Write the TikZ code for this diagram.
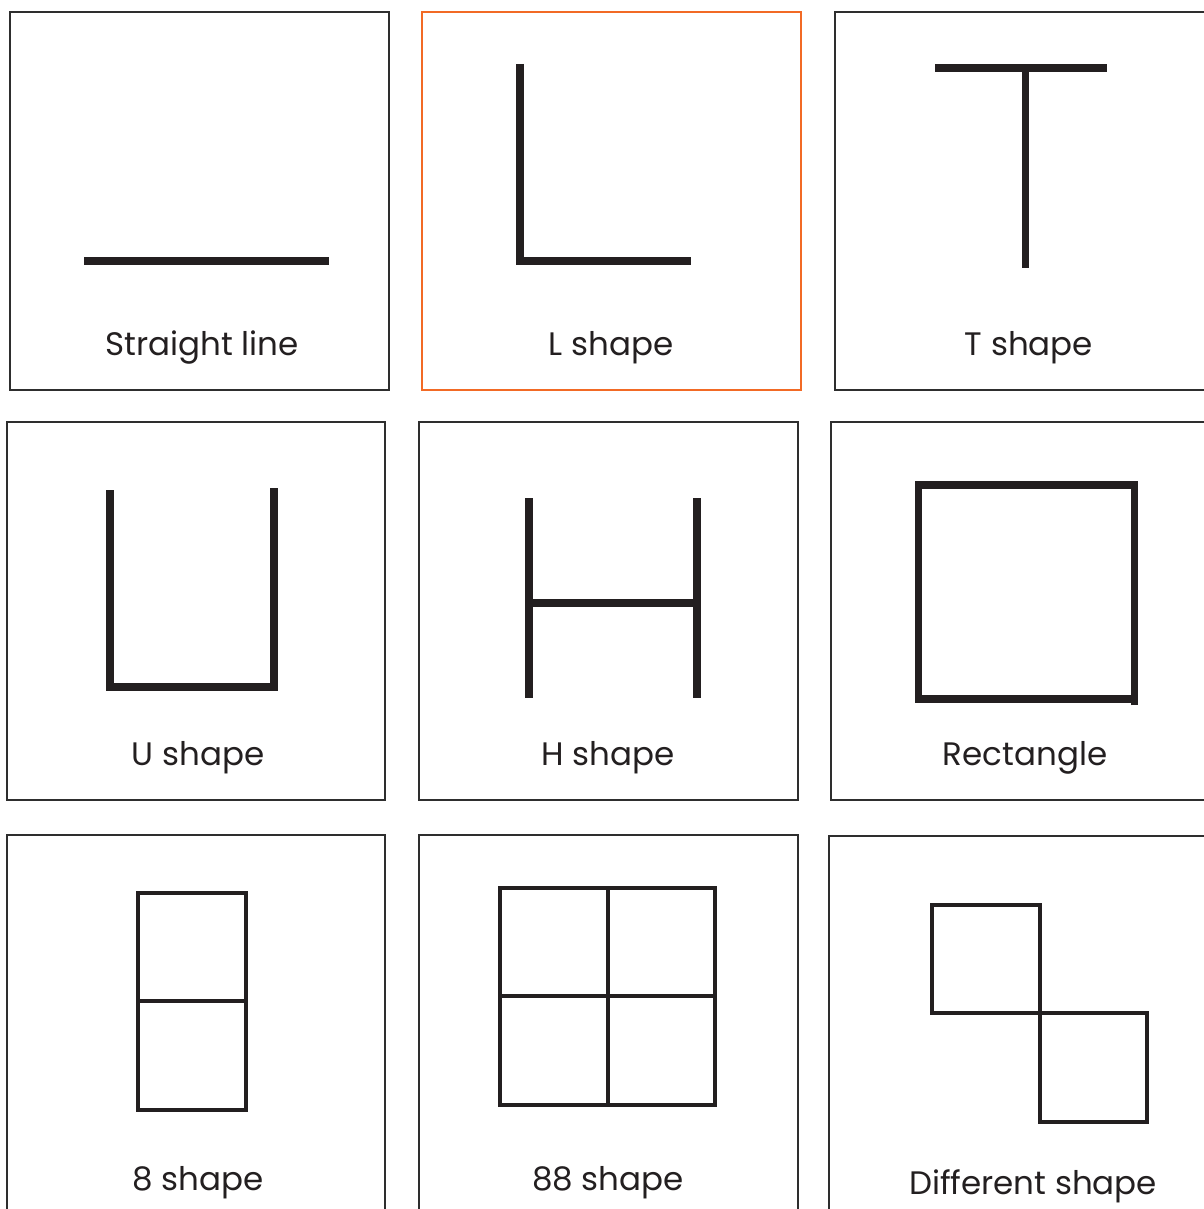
\documentclass[tikz,border=0pt]{standalone}
\usepackage{fontspec}
\setmainfont{Poppins}
\usepackage{tikz}
\usetikzlibrary{positioning}

\definecolor{cardgray}{HTML}{2E2E2E}
\definecolor{cardorange}{HTML}{F26A25}
\definecolor{ink}{HTML}{231F20}

\begin{document}
\begin{tikzpicture}[
    x=0.02cm, y=-0.02cm,
    card/.style={draw=cardgray, line width=1.4pt},
    cardhl/.style={draw=cardorange, line width=1.4pt},
    boldline/.style={draw=ink, line width=4pt, line join=miter},
    thinline/.style={draw=ink, line width=2.3pt, line join=miter},
    caption/.style={anchor=base, inner sep=0pt, text=ink, font=\fontsize{18.5}{22}\selectfont}
]
    \useasboundingbox[fill=white] (0,0) rectangle (1203,1209);

    % cards, row 1
    \draw[card] (10,12) rectangle (389,390);
    \draw[cardhl] (422,12) rectangle (801,390);
    \draw[card] (835,12) rectangle (1230,390);
    % cards, row 2
    \draw[card] (7,422) rectangle (385,800);
    \draw[card] (419,422) rectangle (798,800);
    \draw[card] (831,422) rectangle (1230,800);
    % cards, row 3
    \draw[card] (7,835) rectangle (385,1240);
    \draw[card] (419,835) rectangle (798,1240);
    \draw[card] (829,836) rectangle (1230,1240);

    % straight line
    \draw[boldline] (84,261) -- (329,261);
    % L shape
    \draw[boldline] (520,64) -- (520,261) -- (691,261);
    % T shape
    \draw[boldline] (935,68) -- (1107,68);
    \draw[boldline] (1025,68) -- (1025,268);
    % U shape
    \draw[boldline] (110,490) -- (110,687) -- (274,687) -- (274,488);
    % H shape
    \draw[boldline] (529,498) -- (529,698);
    \draw[boldline] (697,498) -- (697,698);
    \draw[boldline] (529,603) -- (697,603);
    % rectangle
    \draw[boldline] (1134,705) -- (1134,485) -- (918,485) -- (918,699) -- (1134,699);
    % 8 shape
    \draw[thinline] (138,893) rectangle (246,1110);
    \draw[thinline] (138,1001) -- (246,1001);
    % 88 shape
    \draw[thinline] (500,888) rectangle (715,1105);
    \draw[thinline] (608,888) -- (608,1107);
    \draw[thinline] (500,996) -- (715,996);
    % different shape
    \draw[thinline] (932,905) rectangle (1040,1013);
    \draw[thinline] (1040,1013) rectangle (1147,1122);

    % captions
    \node[caption] (capline) at (202,355) {Straight line};
    \node[caption] (capL) at (611,355) {L shape};
    \node[caption] (capT) at (1029,355) {T shape};
    \node[caption] (capU) at (198,765) {U shape};
    \node[caption] (capH) at (608,765) {H shape};
    \node[caption] (caprect) at (1025,765) {Rectangle};
    \node[caption] (cap8) at (198,1190) {8 shape};
    \node[caption] (cap88) at (608,1190) {88 shape};
    \node[caption] (capdiff) at (1033,1194) {Different shape};
\end{tikzpicture}
\end{document}
